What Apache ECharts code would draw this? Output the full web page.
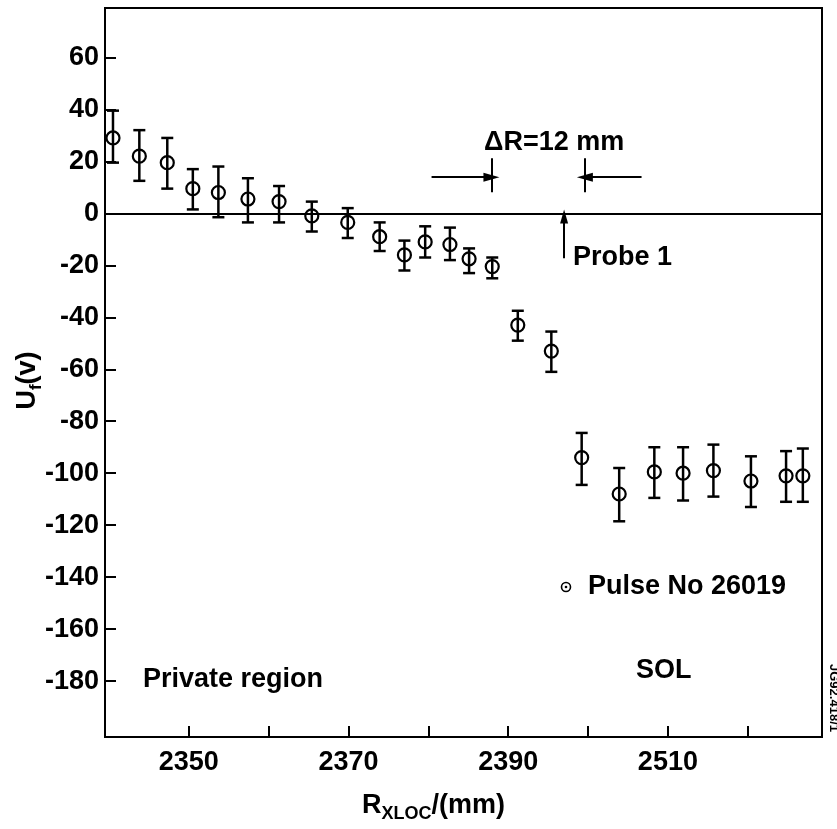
<!DOCTYPE html>
<html>
<head>
<meta charset="utf-8">
<script src="https://cdn.jsdelivr.net/npm/echarts@6/dist/echarts.min.js"></script>
<style>
  html, body { margin: 0; padding: 0; background: #fff; }
  #main { width: 837px; height: 829px; }
</style>
</head>
<body>
<div id="main"></div>
<script>
// R_XLOC positions (mm) of the probe measurements
var rPos = [2340.5, 2343.8, 2347.3, 2350.5, 2353.7, 2357.4, 2361.3, 2365.4, 2369.9, 2373.9,
            2377.0, 2379.6, 2382.7, 2385.1, 2388.0, 2391.2, 2395.4, 2399.2, 2403.9, 2408.3,
            2411.9, 2415.7, 2420.4, 2424.8, 2426.9];
// floating potential U_f (V)
var uf = [29, 22, 19.5, 9.5, 8, 5.5, 4.5, -1, -3.5, -9,
          -16, -11, -12, -17.5, -20.5, -43, -53, -94, -108, -99.5,
          -100, -99, -103, -101, -101];
// error bar ends
var errLow = [19.5, 12.5, 9.5, 1.5, -1.5, -3.5, -3.5, -7, -9.5, -14.5,
              -22, -17, -18, -23, -25, -49, -61, -104.5, -118.5, -109.5,
              -110.5, -109, -113, -111, -111];
var errHigh = [39.5, 32, 29, 17, 18, 13.5, 10.5, 4.5, 2, -3.5,
               -10.5, -5, -5.5, -13.5, -17, -37.5, -45.5, -84.5, -98, -90,
               -90, -89, -93.5, -91.5, -90.5];

var xTicks = [2350, 2360, 2370, 2380, 2390, 2400, 2410, 2420];
var xLabelValues = [2350, 2370, 2390, 2410];
var xLabelTexts = ['2350', '2370', '2390', '2510'];
var yTicks = [-180, -160, -140, -120, -100, -80, -60, -40, -20, 0, 20, 40, 60];

var FONT = "'Liberation Sans', Arial, Helvetica, sans-serif";

var chart = echarts.init(document.getElementById('main'));

var errData = rPos.map(function (r, i) { return [r, errLow[i], errHigh[i]]; });
var ptData = rPos.map(function (r, i) { return [r, uf[i]]; });

var option = {
    backgroundColor: '#fff',
    animation: false,
    grid: {
        left: 105, right: 15, top: 8, bottom: 92,
        outerBoundsMode: 'none',
        containLabel: false,
        show: true, borderColor: '#000', borderWidth: 2
    },
    xAxis: {
        type: 'value',
        min: 2339.5,
        max: 2429.3,
        splitLine: { show: false },
        axisLine: { onZero: false, lineStyle: { color: '#000', width: 2 } },
        axisTick: { inside: true, length: 11, customValues: xTicks, lineStyle: { color: '#000', width: 2 } },
        axisLabel: {
            customValues: xLabelValues,
            margin: 12,
            color: '#000', fontSize: 27, fontWeight: 'bold', fontFamily: FONT,
            formatter: function (v) {
                var k = xLabelValues.indexOf(v);
                return k >= 0 ? xLabelTexts[k] : '';
            }
        },
        name: '{a|R}{b|XLOC}{a|/(mm)}',
        nameLocation: 'middle',
        nameGap: 52,
        nameMoveOverlap: false,
        nameTextStyle: {
            padding: [0, 60, 0, 0],
            rich: {
                a: { fontSize: 27, fontWeight: 'bold', fontFamily: FONT, color: '#000', lineHeight: 34 },
                b: { fontSize: 18, fontWeight: 'bold', fontFamily: FONT, color: '#000', lineHeight: 18, verticalAlign: 'bottom' }
            }
        }
    },
    yAxis: {
        type: 'value',
        min: -201.5,
        max: 79,
        splitLine: { show: false },
        axisLine: { onZero: false, lineStyle: { color: '#000', width: 2 } },
        axisTick: { inside: true, length: 11, customValues: yTicks, lineStyle: { color: '#000', width: 2 } },
        axisLabel: {
            customValues: yTicks,
            margin: 6,
            color: '#000', fontSize: 27, fontWeight: 'bold', fontFamily: FONT
        },
        name: '{a|U}{b|f}{a|(v)}',
        nameLocation: 'middle',
        nameRotate: 90,
        nameGap: 60,
        nameMoveOverlap: false,
        nameTextStyle: {
            padding: [0, 16, 0, 0],
            rich: {
                a: { fontSize: 27, fontWeight: 'bold', fontFamily: FONT, color: '#000', lineHeight: 34 },
                b: { fontSize: 17, fontWeight: 'bold', fontFamily: FONT, color: '#000', lineHeight: 17, verticalAlign: 'bottom' }
            }
        }
    },
    series: [
        {
            type: 'custom',
            name: 'errors',
            data: errData,
            encode: { x: 0, y: [1, 2] },
            renderItem: function (params, api) {
                var x = api.value(0);
                var lo = api.coord([x, api.value(1)]);
                var hi = api.coord([x, api.value(2)]);
                var w = 6;
                var st = { stroke: '#000', lineWidth: 2.5 };
                return {
                    type: 'group',
                    children: [
                        { type: 'line', shape: { x1: lo[0], y1: lo[1], x2: hi[0], y2: hi[1] }, style: st },
                        { type: 'line', shape: { x1: lo[0] - w, y1: lo[1], x2: lo[0] + w, y2: lo[1] }, style: st },
                        { type: 'line', shape: { x1: hi[0] - w, y1: hi[1], x2: hi[0] + w, y2: hi[1] }, style: st }
                    ]
                };
            },
            z: 2
        },
        {
            type: 'scatter',
            name: 'Pulse No 26019',
            data: ptData,
            symbol: 'circle',
            symbolSize: 13,
            itemStyle: { color: 'rgba(255,255,255,0)', borderColor: '#000', borderWidth: 2.2, opacity: 1 },
            z: 3,
            markLine: {
                silent: true,
                animation: false,
                symbol: 'none',
                label: { show: false },
                lineStyle: { color: '#000', width: 2, type: 'solid' },
                data: [
                    [{ coord: [2339.5, 0] }, { coord: [2429.3, 0] }],
                    [{ coord: [2380.4, 13.9], symbol: 'none' }, { coord: [2387.9, 13.9], symbol: 'triangle', symbolSize: [9, 16] }],
                    [{ coord: [2387.9, 21.2] }, { coord: [2387.9, 8.1] }],
                    [{ coord: [2406.7, 13.9], symbol: 'none' }, { coord: [2399.6, 13.9], symbol: 'triangle', symbolSize: [9, 16] }],
                    [{ coord: [2399.6, 21.2] }, { coord: [2399.6, 8.1] }],
                    [{ coord: [2397, -17.3], symbol: 'none' }, { coord: [2397, -1.2], symbol: 'triangle', symbolSize: [8, 14] }]
                ]
            }
        }
    ],
    graphic: [
        { type: 'text', left: 484, top: 129, style: { text: 'ΔR=12 mm', fontSize: 27, fontWeight: 'bold', fontFamily: FONT, fill: '#000' } },
        { type: 'text', left: 573, top: 244, style: { text: 'Probe 1', fontSize: 27, fontWeight: 'bold', fontFamily: FONT, fill: '#000' } },
        { type: 'circle', shape: { cx: 566, cy: 587, r: 4.5 }, style: { fill: 'none', stroke: '#000', lineWidth: 1.6 } },
        { type: 'circle', shape: { cx: 566, cy: 587, r: 1.3 }, style: { fill: '#000' } },
        { type: 'text', left: 588, top: 573, style: { text: 'Pulse No 26019', fontSize: 27, fontWeight: 'bold', fontFamily: FONT, fill: '#000' } },
        { type: 'text', left: 636, top: 657, style: { text: 'SOL', fontSize: 27, fontWeight: 'bold', fontFamily: FONT, fill: '#000' } },
        { type: 'text', left: 143, top: 666, style: { text: 'Private region', fontSize: 27, fontWeight: 'bold', fontFamily: FONT, fill: '#000' } },
        { type: 'text', x: 834, y: 698, rotation: -Math.PI / 2, style: { text: 'JG92.418/1', fontSize: 13, fontWeight: 'bold', fontFamily: FONT, fill: '#000', align: 'center', verticalAlign: 'middle' } }
    ]
};

chart.setOption(option);
</script>
</body>
</html>
